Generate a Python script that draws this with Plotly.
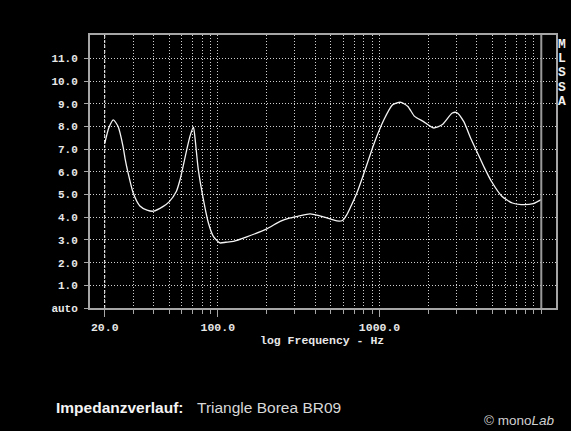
import math
import plotly.graph_objects as go

# Impedance curve of the Triangle Borea BR09 (frequency in Hz, impedance in ohm)
freq_hz = [20, 21.2, 22.6, 24.2, 26, 26.7, 27.8, 30, 33, 36.5, 40, 46, 50, 55.5,
           58.4, 60, 64.3, 67.5, 70.7, 72.3, 75.8, 81.5, 87.5, 93.9, 103, 112,
           124.9, 151, 201, 243, 280, 315, 372, 450, 545, 590, 628, 659, 725,
           790, 928, 1064, 1204, 1280, 1358, 1497, 1647, 1862, 2156, 2435, 2818,
           3000, 3312, 3655, 4035, 4453, 4915, 5705, 6622, 7500, 8900, 10000]
impedance = [7.25, 7.95, 8.3, 8.0, 7.1, 6.6, 6.0, 5.07, 4.5, 4.32, 4.27, 4.48,
             4.68, 5.15, 5.65, 6.0, 6.98, 7.6, 7.98, 7.5, 6.1, 4.78, 3.75, 3.16,
             2.87, 2.9, 2.94, 3.14, 3.49, 3.82, 3.97, 4.05, 4.15, 4.02, 3.84,
             3.86, 4.12, 4.42, 5.08, 5.82, 7.28, 8.3, 8.96, 9.05, 9.07, 8.89, 8.45,
             8.23, 7.94, 8.08, 8.6, 8.62, 8.23, 7.5, 6.84, 6.18, 5.59, 4.93, 4.63,
             4.56, 4.6, 4.78]

# Axis ticks and grid
x_major = [20, 100, 1000]
x_major_labels = ["20.0", "100.0", "1000.0"]
x_minor = [30, 40, 50, 60, 70, 80, 90,
           200, 300, 400, 500, 600, 700, 800, 900,
           2000, 3000, 4000, 5000, 6000, 7000, 8000, 9000, 10000]
y_ticks = list(range(0, 12))
y_labels = ["auto"] + [f"{v:.1f}" for v in range(1, 12)]

x_title = "log Frequency - Hz"
side_label = "MLSSA"
caption_bold = "Impedanzverlauf:"
caption_text = "Triangle Borea BR09"
credit = "© mono<i>Lab</i>"

frame_col = "#a6a6a6"
grid_col = "#cfcfcf"
mono = "Liberation Mono"
sans = "Liberation Sans"

# plot area in pixels (for placing the free text)
PL, PR, PT, PB = 90, 556, 35, 308


def px_x(px):
    return (px - PL) / (PR - PL)


def px_y(py):
    return (PB - py) / (PB - PT)


fig = go.Figure()
fig.add_trace(go.Scatter(
    x=freq_hz, y=impedance, mode="lines",
    line=dict(color="#f4f4f4", width=1.3, shape="spline", smoothing=0.6),
    hoverinfo="skip", showlegend=False,
))

fig.update_layout(
    width=571, height=431,
    margin=dict(l=PL, r=571 - PR, t=PT, b=431 - PB),
    paper_bgcolor="black", plot_bgcolor="black",
    font=dict(family=mono, color="#e8e8e8", size=11),
    xaxis=dict(
        type="log", range=[1.210, 4.091],
        tickmode="array", tickvals=x_major, ticktext=x_major_labels,
        ticks="outside", ticklen=7, tickcolor=frame_col, tickwidth=1,
        tickfont=dict(family=mono, size=11.5, color="#e8e8e8", weight="bold"),
        showgrid=True, gridcolor=grid_col, griddash="1px,2px", gridwidth=1,
        minor=dict(tickmode="array", tickvals=x_minor, ticks="outside",
                   ticklen=4, tickcolor=frame_col, showgrid=True,
                   gridcolor=grid_col, griddash="1px,2px", gridwidth=1),
        showline=True, linecolor=frame_col, linewidth=2, mirror=True,
        zeroline=False,
    ),
    yaxis=dict(
        range=[0, 12.04],
        tickmode="array", tickvals=y_ticks, ticktext=y_labels,
        ticks="outside", ticklen=4, tickcolor=frame_col,
        tickfont=dict(family=mono, size=11, color="#e8e8e8", weight="bold"),
        ticklabelstandoff=4,
        showgrid=True, gridcolor=grid_col, griddash="1px,2px", gridwidth=1,
        showline=True, linecolor=frame_col, linewidth=2, mirror=True,
        zeroline=False,
    ),
)

# 20 Hz marker line and the 10 kHz limit line
fig.add_shape(type="line", xref="x", yref="paper", x0=20, x1=20, y0=0, y1=1,
              line=dict(color="white", width=1, dash="3px,2px"))
fig.add_shape(type="line", xref="x", yref="paper", x0=10000, x1=10000, y0=0, y1=1,
              line=dict(color="#9a9a9a", width=2))

fig.add_annotation(text=x_title, xref="paper", yref="paper", x=0.497, y=px_y(340.5),
                   xanchor="center", yanchor="middle", showarrow=False,
                   font=dict(family=mono, size=11.5, color="#e8e8e8", weight="bold"))

# vertical "MLSSA" label, one letter per row
for i, ch in enumerate(side_label):
    fig.add_annotation(text=ch, xref="paper", yref="paper",
                       x=px_x(562), y=px_y(44 + i * 14.4),
                       xanchor="center", yanchor="middle", showarrow=False,
                       font=dict(family=mono, size=13, color="#f0f0f0", weight="bold"))

fig.add_annotation(text=caption_bold, xref="paper", yref="paper",
                   x=px_x(54), y=px_y(407), xanchor="left", yanchor="middle",
                   showarrow=False,
                   font=dict(family=sans, size=15.5, color="#f4f4f4", weight="bold"))
fig.add_annotation(text=caption_text, xref="paper", yref="paper",
                   x=px_x(195), y=px_y(407), xanchor="left", yanchor="middle",
                   showarrow=False,
                   font=dict(family=sans, size=15.5, color="#d8d8d8"))
fig.add_annotation(text=credit, xref="paper", yref="paper",
                   x=px_x(556), y=px_y(421), xanchor="right", yanchor="middle",
                   showarrow=False,
                   font=dict(family=sans, size=13.5, color="#d0d0d0"))

fig.write_html("out.html")
